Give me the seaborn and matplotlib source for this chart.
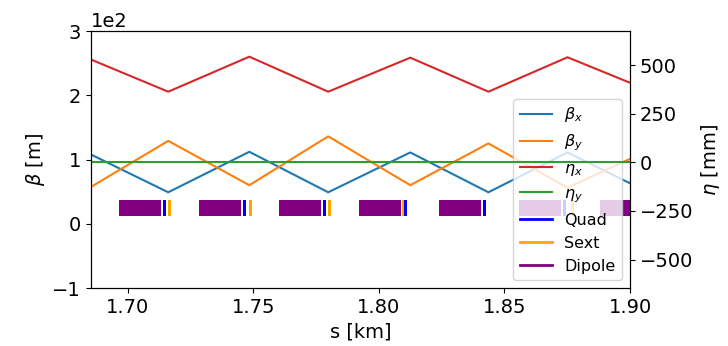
import matplotlib
matplotlib.use("Agg")
import matplotlib.pyplot as plt
import seaborn as sns
from matplotlib.lines import Line2D

# Optics along the arc (piecewise linear between quadrupoles)
s_km = [1.6852, 1.7161, 1.7484, 1.7798, 1.8125, 1.8436, 1.8751, 1.9000]
beta_x = [108, 49, 112, 49, 111, 49, 111, 63]
beta_y = [57, 129, 60, 136, 60, 125, 56, 101]
eta_x = [529, 363, 543, 363, 538, 363, 540, 409]
eta_y = [0, 0, 0, 0, 0, 0, 0, 0]

# Lattice elements (start position in km, length in km)
dipole_start = [1.69663, 1.72851, 1.76038, 1.79225, 1.82411, 1.85598, 1.88785]
dipole_len = 0.0165
quad_start = [1.71403, 1.74591, 1.77778, 1.80985, 1.84151, 1.87338]
quad_len = 0.0013
sext_start = [1.71592, 1.74831, 1.77966, 1.80927, 1.84151, 1.87645]
sext_len = 0.0013

s_ticks = [1.70, 1.75, 1.80, 1.85, 1.90]

plt.rcParams["font.family"] = ["DejaVu Sans"]

fig = plt.figure(figsize=(7.28, 3.46), dpi=100)
ax = fig.add_axes([0.1245, 0.1676, 0.7409, 0.7428])
ax2 = ax.twinx()

sns.lineplot(x=s_km, y=beta_x, ax=ax, color="C0", lw=1.5, legend=False)
sns.lineplot(x=s_km, y=beta_y, ax=ax, color="C1", lw=1.5, legend=False)
sns.lineplot(x=s_km, y=eta_x, ax=ax2, color="C3", lw=1.5, legend=False)
sns.lineplot(x=s_km, y=eta_y, ax=ax2, color="C2", lw=1.5, legend=False)

# element boxes on the beta axis
ax.bar(dipole_start, 25, width=dipole_len, bottom=12.5, align="edge",
       color="purple", edgecolor="none")
ax.bar(sext_start, 25, width=sext_len, bottom=12.5, align="edge",
       color="orange", edgecolor="none")
ax.bar(quad_start, 25, width=quad_len, bottom=12.5, align="edge",
       color="blue", edgecolor="none")

ax.set_xlim(1.6852, 1.90)
ax.set_xticks(s_ticks)
ax.set_ylim(-100, 300)
ax.set_yticks([-100, 0, 100, 200, 300])
ax.ticklabel_format(axis="y", style="sci", scilimits=(0, 0))
ax2.set_ylim(-646, 675)
ax2.set_yticks([-500, -250, 0, 250, 500])

fs = 14
ax.tick_params(labelsize=fs)
ax2.tick_params(labelsize=fs)
ax.yaxis.get_offset_text().set_fontsize(fs)
ax.set_xlabel("s [km]", fontsize=fs)
ax.set_ylabel(r"$\beta$ [m]", fontsize=fs)
ax2.set_ylabel(r"$\eta$ [mm]", fontsize=fs)

handles = [
    Line2D([], [], color="C0", lw=1.5, label=r"$\beta_x$"),
    Line2D([], [], color="C1", lw=1.5, label=r"$\beta_y$"),
    Line2D([], [], color="C3", lw=1.5, label=r"$\eta_x$"),
    Line2D([], [], color="C2", lw=1.5, label=r"$\eta_y$"),
    Line2D([], [], color="blue", lw=2, label="Quad"),
    Line2D([], [], color="orange", lw=2, label="Sext"),
    Line2D([], [], color="purple", lw=2, label="Dipole"),
]
ax.legend(handles=handles, loc="lower right", fontsize=11.5)

fig.savefig("out.png", dpi=100)
